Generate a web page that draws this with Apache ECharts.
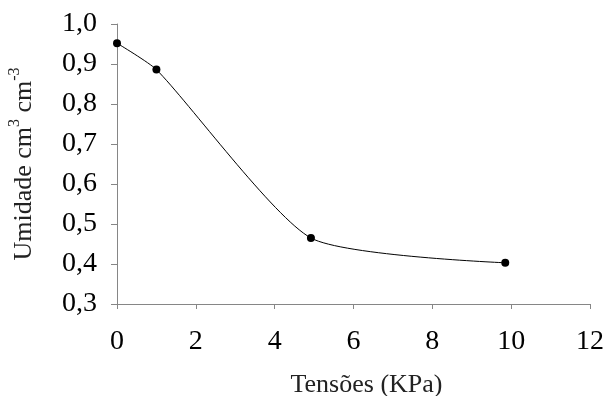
<!DOCTYPE html>
<html>
<head>
<meta charset="utf-8">
<script src="https://cdn.jsdelivr.net/npm/echarts@6/dist/echarts.min.js"></script>
<style>
  html, body { margin: 0; padding: 0; background: #fff; }
  #main { width: 606px; height: 396px; }
</style>
</head>
<body>
<div id="main"></div>
<script>
// tensões (KPa) e umidade
var tensoes = [0, 1, 4.92, 9.85];
var umidade = [0.952, 0.886, 0.465, 0.403];
var xTicks = [0, 2, 4, 6, 8, 10, 12];
var yTicks = [0.3, 0.4, 0.5, 0.6, 0.7, 0.8, 0.9, 1.0];

var chart = echarts.init(document.getElementById('main'));
var serif = '"Liberation Serif", "Times New Roman", serif';
var axisGray = '#868686';

var pontos = tensoes.map(function (t, i) { return [t, umidade[i]]; });

var option = {
    backgroundColor: '#fff',
    animation: false,
    grid: { left: 117, right: 16, top: 24, bottom: 92, outerBoundsMode: 'none' },
    xAxis: {
        type: 'value',
        min: xTicks[0],
        max: xTicks[xTicks.length - 1],
        interval: 2,
        name: 'Tensões (KPa)',
        nameLocation: 'middle',
        nameGap: 68,
        nameTextStyle: { fontFamily: serif, fontSize: 26, color: '#222', padding: [0, 0, 0, 26] },
        axisLine: { lineStyle: { color: axisGray, width: 1 } },
        axisTick: { show: true, inside: false, length: 5, lineStyle: { color: axisGray } },
        axisLabel: { fontFamily: serif, fontSize: 28, color: '#000', margin: 24 },
        splitLine: { show: false }
    },
    yAxis: {
        type: 'value',
        min: yTicks[0],
        max: yTicks[yTicks.length - 1],
        interval: 0.1,
        name: '{a|Umidade cm}{s|3}{a| cm}{s|-3}',
        nameLocation: 'middle',
        nameRotate: 90,
        nameGap: 80,
        nameTextStyle: {
            fontFamily: serif, fontSize: 26, color: '#222',
            rich: {
                a: { fontFamily: serif, fontSize: 26, color: '#222', lineHeight: 30, verticalAlign: 'bottom' },
                s: { fontFamily: serif, fontSize: 16, color: '#222', lineHeight: 30, verticalAlign: 'top', padding: [0, 0, 10, 0] }
            }
        },
        axisLine: { show: true, lineStyle: { color: axisGray, width: 1 } },
        axisTick: { show: true, inside: false, length: 6, lineStyle: { color: axisGray } },
        axisLabel: {
            fontFamily: serif, fontSize: 28, color: '#000', margin: 20,
            formatter: function (v) { return v.toFixed(1).replace('.', ','); }
        },
        splitLine: { show: false }
    },
    series: [{
        type: 'line',
        data: pontos,
        smooth: 0.2,
        symbol: 'circle',
        symbolSize: 8,
        showSymbol: true,
        itemStyle: { color: '#000' },
        lineStyle: { color: '#000', width: 1 }
    }]
};
chart.setOption(option);
</script>
</body>
</html>
